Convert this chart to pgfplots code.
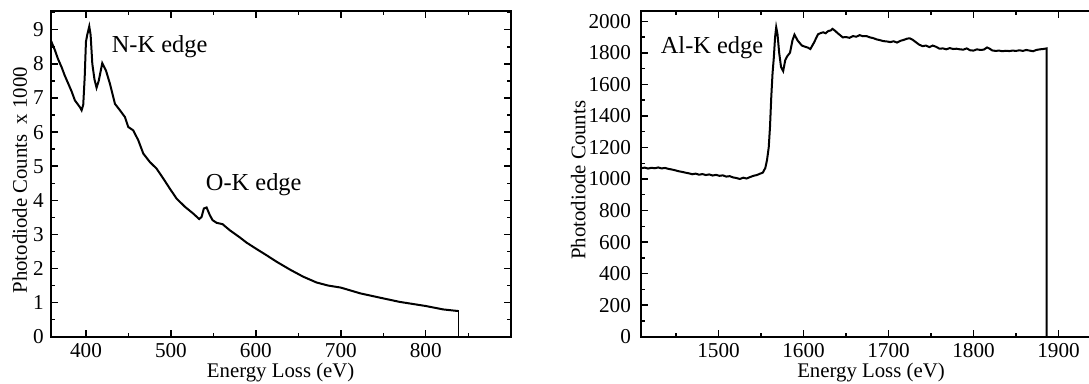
\documentclass[border=0pt]{standalone}
\usepackage{fontspec}
\setmainfont{Liberation Serif}
\usepackage{pgfplots}
\pgfplotsset{compat=1.18}
\usepackage{pgfplotstable}

\pgfplotstableread{
x y
358.5 8.70
363.5 8.40
367.0 8.15
371.4 7.90
375.0 7.66
379.2 7.42
383.0 7.20
387.0 6.93
392.9 6.73
394.9 6.64
396.8 6.80
398.5 7.60
400.0 8.65
401.5 8.85
403.9 9.10
405.5 8.85
407.5 8.00
410.0 7.55
412.5 7.30
415.0 7.50
419.2 8.02
423.5 7.81
428.2 7.42
434.1 6.83
440.0 6.64
445.9 6.44
449.8 6.15
455.7 6.05
461.6 5.76
467.5 5.37
475.3 5.12
483.1 4.93
491.0 4.64
498.8 4.34
506.7 4.05
516.5 3.81
526.3 3.61
533.3 3.45
536.1 3.51
538.8 3.76
542.0 3.79
545.9 3.56
549.0 3.42
553.7 3.34
560.8 3.30
569.4 3.12
581.2 2.91
589.0 2.76
599.6 2.59
612.5 2.39
624.3 2.20
640.0 1.97
655.7 1.76
671.4 1.59
685.0 1.50
700.0 1.44
723.0 1.27
750.6 1.12
769.4 1.02
800.0 0.90
820.4 0.80
839.0 0.75
}\nkdata

\pgfplotstableread{
x y
1409 1068
1413 1072
1417 1066
1421 1071
1425 1068
1429 1073
1433 1067
1437 1070
1441 1064
1445 1060
1449 1055
1453 1049
1457 1045
1461 1040
1465 1036
1469 1030
1473 1034
1477 1027
1481 1031
1485 1025
1489 1029
1493 1022
1497 1026
1501 1020
1505 1023
1509 1015
1513 1018
1517 1010
1521 1006
1525 1000
1529 1008
1533 1003
1537 1012
1541 1020
1545 1025
1549 1034
1552 1040
1555 1070
1557 1120
1559 1200
1560.5 1330
1562 1520
1563.5 1670
1565 1770
1566.5 1900
1567.8 1962
1569.3 1920
1571.3 1800
1573.5 1710
1576 1684
1578.5 1755
1581 1780
1584 1800
1587 1880
1589.3 1915
1593 1878
1598 1846
1602 1838
1605 1833
1608 1824
1612 1862
1617 1917
1620 1925
1623 1930
1626 1924
1629 1938
1632 1942
1634 1952
1637 1940
1640 1925
1643 1912
1646 1898
1650 1900
1654 1895
1658 1906
1662 1902
1666 1912
1670 1905
1674 1906
1678 1898
1682 1893
1686 1885
1690 1880
1694 1874
1698 1872
1702 1868
1706 1873
1710 1865
1714 1876
1718 1882
1722 1890
1725 1892
1728 1884
1732 1868
1736 1852
1740 1842
1744 1846
1748 1836
1752 1846
1756 1838
1760 1826
1764 1828
1768 1822
1772 1830
1776 1824
1780 1826
1784 1822
1788 1820
1792 1828
1796 1816
1800 1814
1804 1822
1808 1818
1812 1820
1816 1834
1819 1826
1822 1815
1826 1812
1830 1814
1834 1810
1838 1813
1842 1811
1846 1814
1850 1812
1854 1816
1858 1812
1862 1818
1866 1814
1870 1810
1874 1818
1878 1822
1882 1824
1886 1828
1886 0
}\alkdata

\pgfplotsset{
  myaxis/.style={
    scale only axis,
    width=230pt, height=163pt,
    axis line style={line width=0.9pt},
    every tick/.style={black, line width=0.7pt},
    major tick length=3.5pt,
    minor tick length=2pt,
    tick align=inside,
    tick pos=both,
    /pgf/number format/assume math mode=true,
    /pgf/number format/1000 sep={},
    tick label style={font=\fontsize{10.6}{12}\selectfont},
    label style={font=\fontsize{10.4}{12}\selectfont},
    xlabel={Energy Loss (eV)},
    xlabel style={at={(axis description cs:0.5,0)}, anchor=base, yshift=-20.6pt},
  }
}

\begin{document}
\begin{tikzpicture}
\useasboundingbox (0,0) rectangle (544.5pt,192pt);
\clip (0,0) rectangle (544.5pt,192pt);
\begin{axis}[myaxis,
  at={(25.35pt,23.65pt)}, anchor=south west,
  xmin=358.5, xmax=900, ymin=0, ymax=9.56,
  xtick={400,500,...,800},
  minor xtick={350,450,...,850},
  ytick={0,1,...,9},
  minor ytick={0.5,1.5,...,9.5},
  ylabel={Photodiode Counts\ \ x 1000},
  ylabel style={at={(axis description cs:-0.052,0.48)}, anchor=base},
]
\addplot[black, line width=1pt] table[x=x,y=y] {\nkdata};
\addplot[black, line width=0.4pt] coordinates {(839,0.75) (839,0)};
\node[anchor=base west, font=\fontsize{12.2}{14}\selectfont, inner sep=0pt] at (axis cs:430,8.32) {N-K edge};
\node[anchor=base west, font=\fontsize{12.2}{14}\selectfont, inner sep=0pt] at (axis cs:540.8,4.30) {O-K edge};
\end{axis}
\begin{axis}[myaxis,
  at={(320.5pt,23.65pt)}, anchor=south west,
  xmin=1408.7, xmax=1950, ymin=0, ymax=2067,
  xtick={1500,1600,...,1900},
  minor xtick={1450,1550,...,1950},
  ytick={0,200,...,2000},
  minor ytick={100,300,...,1900},
  ylabel={Photodiode Counts},
  ylabel style={at={(axis description cs:-0.121,0.48)}, anchor=base},
  yticklabel style={xshift=-1.5pt},
]
\addplot[black, line width=1pt] table[x=x,y=y] {\alkdata};
\node[anchor=base west, font=\fontsize{12.2}{14}\selectfont, inner sep=0pt] at (axis cs:1431.6,1795) {Al-K edge};
\end{axis}
\end{tikzpicture}
\end{document}
